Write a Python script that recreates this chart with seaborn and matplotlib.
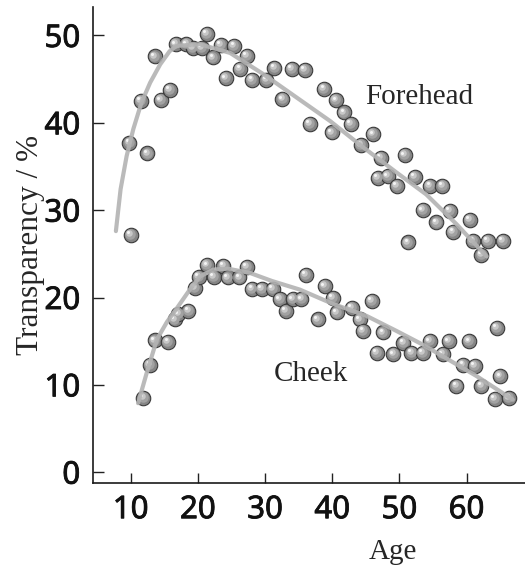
import matplotlib
matplotlib.use("Agg")
import matplotlib.pyplot as plt
import matplotlib.patheffects as pe
from matplotlib.transforms import offset_copy
import seaborn as sns
import pandas as pd

# measured points (age, transparency %)
forehead_age = [9.8, 10.0, 11.5, 12.5, 13.6, 14.5, 15.8, 16.7, 18.3, 19.3,
                20.6, 21.3, 22.3, 23.4, 24.2, 25.4, 26.3, 27.3, 28.1, 30.2,
                31.4, 32.6, 34.0, 35.9, 36.7, 38.8, 39.9, 40.6, 41.8, 42.8,
                44.3, 46.1, 46.8, 47.2, 48.3, 49.6, 50.8, 51.3, 52.3, 53.5,
                54.6, 55.5, 56.4, 57.5, 58.0, 60.5, 61.0, 62.2, 63.2, 65.4]
forehead_val = [37.7, 27.2, 42.5, 36.5, 47.6, 42.6, 43.8, 49.0, 49.0, 48.6,
                48.6, 50.2, 47.5, 48.9, 45.1, 48.8, 46.2, 47.7, 44.9, 44.9,
                46.3, 42.7, 46.2, 46.1, 39.9, 43.9, 38.9, 42.6, 41.2, 39.9,
                37.5, 38.7, 33.7, 36.0, 33.9, 32.8, 36.3, 26.3, 33.8, 30.0,
                32.8, 28.6, 32.8, 29.9, 27.5, 28.9, 26.5, 24.9, 26.5, 26.5]

cheek_age = [11.9, 12.9, 13.6, 15.6, 16.6, 17.1, 18.6, 19.6, 20.1, 21.4,
             22.4, 23.8, 24.5, 26.2, 27.3, 28.1, 29.5, 31.2, 32.2, 33.1,
             34.1, 35.4, 36.1, 37.9, 38.9, 40.1, 40.7, 42.9, 44.1, 44.6,
             45.9, 46.6, 47.6, 49.1, 50.6, 51.8, 53.5, 54.5, 56.5, 57.4,
             58.5, 59.5, 60.4, 61.2, 62.2, 64.2, 64.5, 65.0, 66.3]
cheek_val = [8.5, 12.3, 15.1, 14.9, 17.5, 18.1, 18.5, 21.1, 22.4, 23.7,
             22.4, 23.6, 22.3, 22.3, 23.5, 21.0, 21.0, 21.0, 19.8, 18.5,
             19.8, 19.8, 22.6, 17.5, 21.3, 20.0, 18.3, 18.8, 17.5, 16.2,
             19.6, 13.7, 16.0, 13.5, 14.8, 13.7, 13.7, 15.0, 13.5, 15.0,
             9.9, 12.3, 15.0, 12.2, 9.9, 8.4, 16.5, 11.0, 8.5]

# hand-drawn trend curves
forehead_fit_age = [7.8, 8.5, 9.4, 10.4, 11.6, 12.9, 14.4, 15.8, 16.8, 20.3,
                    24.8, 29.7, 34.7, 39.7, 44.6, 49.6, 54.0, 58.5, 63.0]
forehead_fit_val = [27.6, 32.4, 36.2, 39.3, 42.3, 44.6, 46.7, 48.2, 48.8, 49.0,
                    48.0, 45.6, 42.9, 40.2, 37.2, 34.3, 31.8, 28.4, 24.7]
cheek_fit_age = [11.1, 12.4, 13.9, 15.4, 16.9, 18.8, 20.3, 22.3, 24.5, 27.8,
                 31.0, 35.2, 40.0, 45.1, 49.5, 53.5, 57.5, 61.5, 66.9]
cheek_fit_val = [7.9, 11.4, 15.2, 17.2, 18.8, 20.9, 22.4, 23.2, 23.3, 22.8,
                 21.9, 20.9, 19.3, 17.9, 16.2, 14.6, 12.8, 11.0, 8.3]

x_ticks = [10, 20, 30, 40, 50, 60]
y_ticks = [0, 10, 20, 30, 40, 50]
forehead_label_pos = (52.9, 43.0)
cheek_label_pos = (36.8, 11.2)

sns.set_style("white")
plt.rcParams["font.family"] = ["Liberation Serif", "DejaVu Serif"]

fig = plt.figure(figsize=(5.25, 5.69), dpi=100)
ax = fig.add_axes([0.1766, 0.1517, 0.8234, 0.8366])

points = pd.DataFrame({"age": forehead_age + cheek_age,
                       "val": forehead_val + cheek_val})

# grey ball markers: body with dark rim, then lighter spots toward upper left
sns.scatterplot(data=points, x="age", y="val", ax=ax, s=(0.72 * 14.5) ** 2,
                color="#858585", edgecolor="#3a3a3a", linewidth=0.8,
                zorder=2, legend=False)
for d, c, off in [(10.5, "#a2a2a2", 0.8), (6.5, "#c8c8c8", 1.8), (3, "#f4f4f4", 2.6)]:
    tr = offset_copy(ax.transData, fig=fig, x=-off, y=off, units="dots")
    sns.scatterplot(data=points, x="age", y="val", ax=ax, s=(0.72 * d) ** 2,
                    color=c, linewidth=0, transform=tr, zorder=2, legend=False)

for xs, ys in [(forehead_fit_age, forehead_fit_val), (cheek_fit_age, cheek_fit_val)]:
    sns.lineplot(x=xs, y=ys, ax=ax, sort=False, estimator=None, color="#b3b3b3",
                 linewidth=3, alpha=0.9, zorder=3, solid_capstyle="round")

ax.text(*forehead_label_pos, "Forehead", fontsize=21, ha="center", va="center")
ax.text(*cheek_label_pos, "Cheek", fontsize=21, ha="center", va="center")

ax.set_xlim(4.35, 68.7)
ax.set_ylim(-1.2, 53.3)
ax.set_xticks(x_ticks)
ax.set_yticks(y_ticks)
tick_font = dict(family=["Noto Sans", "Liberation Sans"], weight="bold",
                 stretch="condensed", size=22.5, color="#111111")
ax.set_xticklabels([str(t) for t in x_ticks], fontdict=tick_font)
ax.set_yticklabels([str(t) for t in y_ticks], fontdict=tick_font)
for lbl in ax.get_xticklabels() + ax.get_yticklabels():
    lbl.set_path_effects([pe.withStroke(linewidth=0.6, foreground="#111111")])
ax.tick_params(axis="x", bottom=True, direction="in", length=7, width=1, pad=9, color="#222222")
ax.tick_params(axis="y", left=True, direction="in", length=8, width=1, pad=9, color="#222222")

sns.despine(ax=ax)
for side in ["left", "bottom"]:
    ax.spines[side].set_color("#1a1a1a")
    ax.spines[side].set_linewidth(1.2)

ax.set_xlabel("Age", fontsize=21, va="center")
ax.set_ylabel("Transparency / %", fontsize=22.5, va="center")
ax.xaxis.set_label_coords(0.695, -0.1457)
ax.yaxis.set_label_coords(-0.145, 0.4997)

fig.savefig("out.png", dpi=100)
